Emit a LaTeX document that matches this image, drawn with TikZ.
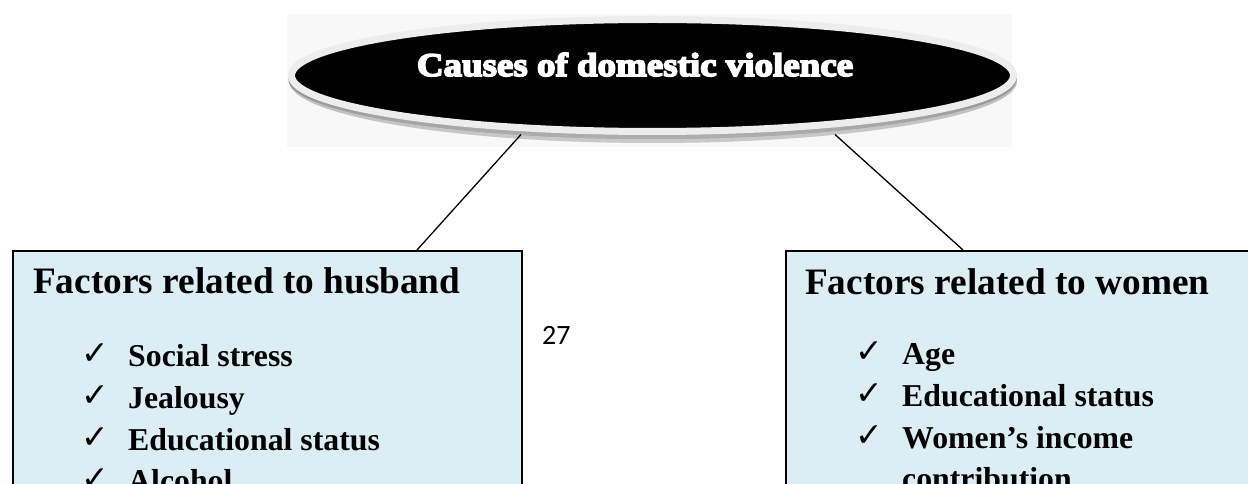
\documentclass[tikz,border=0pt]{standalone}
\usepackage{fontspec}
\setmainfont{Liberation Serif}
\newfontfamily\titlefont[FakeBold=5,FakeStretch=1.12]{Liberation Serif Bold}
\newfontfamily\checkfont{DejaVu Sans}
\newfontfamily\calib{Carlito}
\usetikzlibrary{shapes.geometric,calc}
\definecolor{boxfill}{HTML}{DAEEF3}
\definecolor{rimgray}{HTML}{EDEDED}
\definecolor{glow}{HTML}{F8F8F8}
\definecolor{shade}{HTML}{B5B5B5}
\tikzset{
  rootnode/.style={ellipse, fill=black, draw=rimgray, line width=7bp, inner sep=0pt,
    minimum width=722bp, minimum height=112bp},
  titletext/.style={anchor=base, inner sep=0pt, text=white, font=\titlefont\fontsize{33bp}{36bp}\selectfont},
  factorbox/.style={rectangle, fill=boxfill, draw=black, line width=1.6bp, anchor=north west, inner sep=0pt},
  headtext/.style={anchor=base west, inner sep=0pt, font=\fontsize{37.3bp}{40bp}\selectfont\bfseries},
  itemtext/.style={anchor=base west, inner sep=0pt, font=\fontsize{31.8bp}{34bp}\selectfont\bfseries},
  checktext/.style={anchor=base west, inner sep=0pt, font=\checkfont\fontsize{33bp}{36bp}\selectfont},
  pagenum/.style={anchor=base west, inner sep=0pt, font=\calib\fontsize{28bp}{30bp}\selectfont},
  conn/.style={draw=black, line width=1.3bp}
}
\begin{document}
\begin{tikzpicture}[x=1bp,y=-1bp]
\useasboundingbox (0,0) rectangle (1248,484);
\begin{scope}
\clip (0,0) rectangle (1248,484);
% faint glow behind the ellipse
\fill[glow] (287,14) rectangle (1012,147);
% shadow below the rim
\fill[shade, opacity=0.25] (653,81) ellipse [x radius=364, y radius=62];
\fill[shade, opacity=0.45] (652.5,79) ellipse [x radius=364, y radius=60];
% root ellipse
\node[rootnode] (root) at (652.5,75.5) {};
\node[titletext] (title) at (635,76) {Causes of domestic violence};
% boxes
\node[factorbox, minimum width=509bp, minimum height=280bp] (hb) at (12,250) {};
\node[factorbox, minimum width=500bp, minimum height=280bp] (wb) at (785,250) {};
% connectors
\draw[conn] ($(root.center)+(-131.5,59)$) -- ($(hb.north west)+(405,0)$);
\draw[conn] ($(root.center)+(182.5,59)$) -- ($(wb.north west)+(178,0)$);
% left box text
\node[headtext] (hbh) at (33,294) {Factors related to husband};
\node[checktext] (hc1) at (81,365) {✓};
\node[itemtext] (hi1) at (128,367) {Social stress};
\node[checktext] (hc2) at (81,406.5) {✓};
\node[itemtext] (hi2) at (128,408.5) {Jealousy};
\node[checktext] (hc3) at (81,448) {✓};
\node[itemtext] (hi3) at (128,450) {Educational status};
\node[checktext] (hc4) at (81,489.5) {✓};
\node[itemtext] (hi4) at (128,491.5) {Alcohol};
% page number
\node[pagenum] (pn) at (542,345) {27};
% right box text
\node[headtext] (wbh) at (805,295) {Factors related to women};
\node[checktext] (wc1) at (855,363) {✓};
\node[itemtext] (wi1) at (902,365) {Age};
\node[checktext] (wc2) at (855,404.5) {✓};
\node[itemtext] (wi2) at (902,406.5) {Educational status};
\node[checktext] (wc3) at (855,446) {✓};
\node[itemtext] (wi3) at (902,448) {Women’s income};
\node[itemtext] (wi4) at (902,489.5) {contribution};
\end{scope}
\end{tikzpicture}
\end{document}
